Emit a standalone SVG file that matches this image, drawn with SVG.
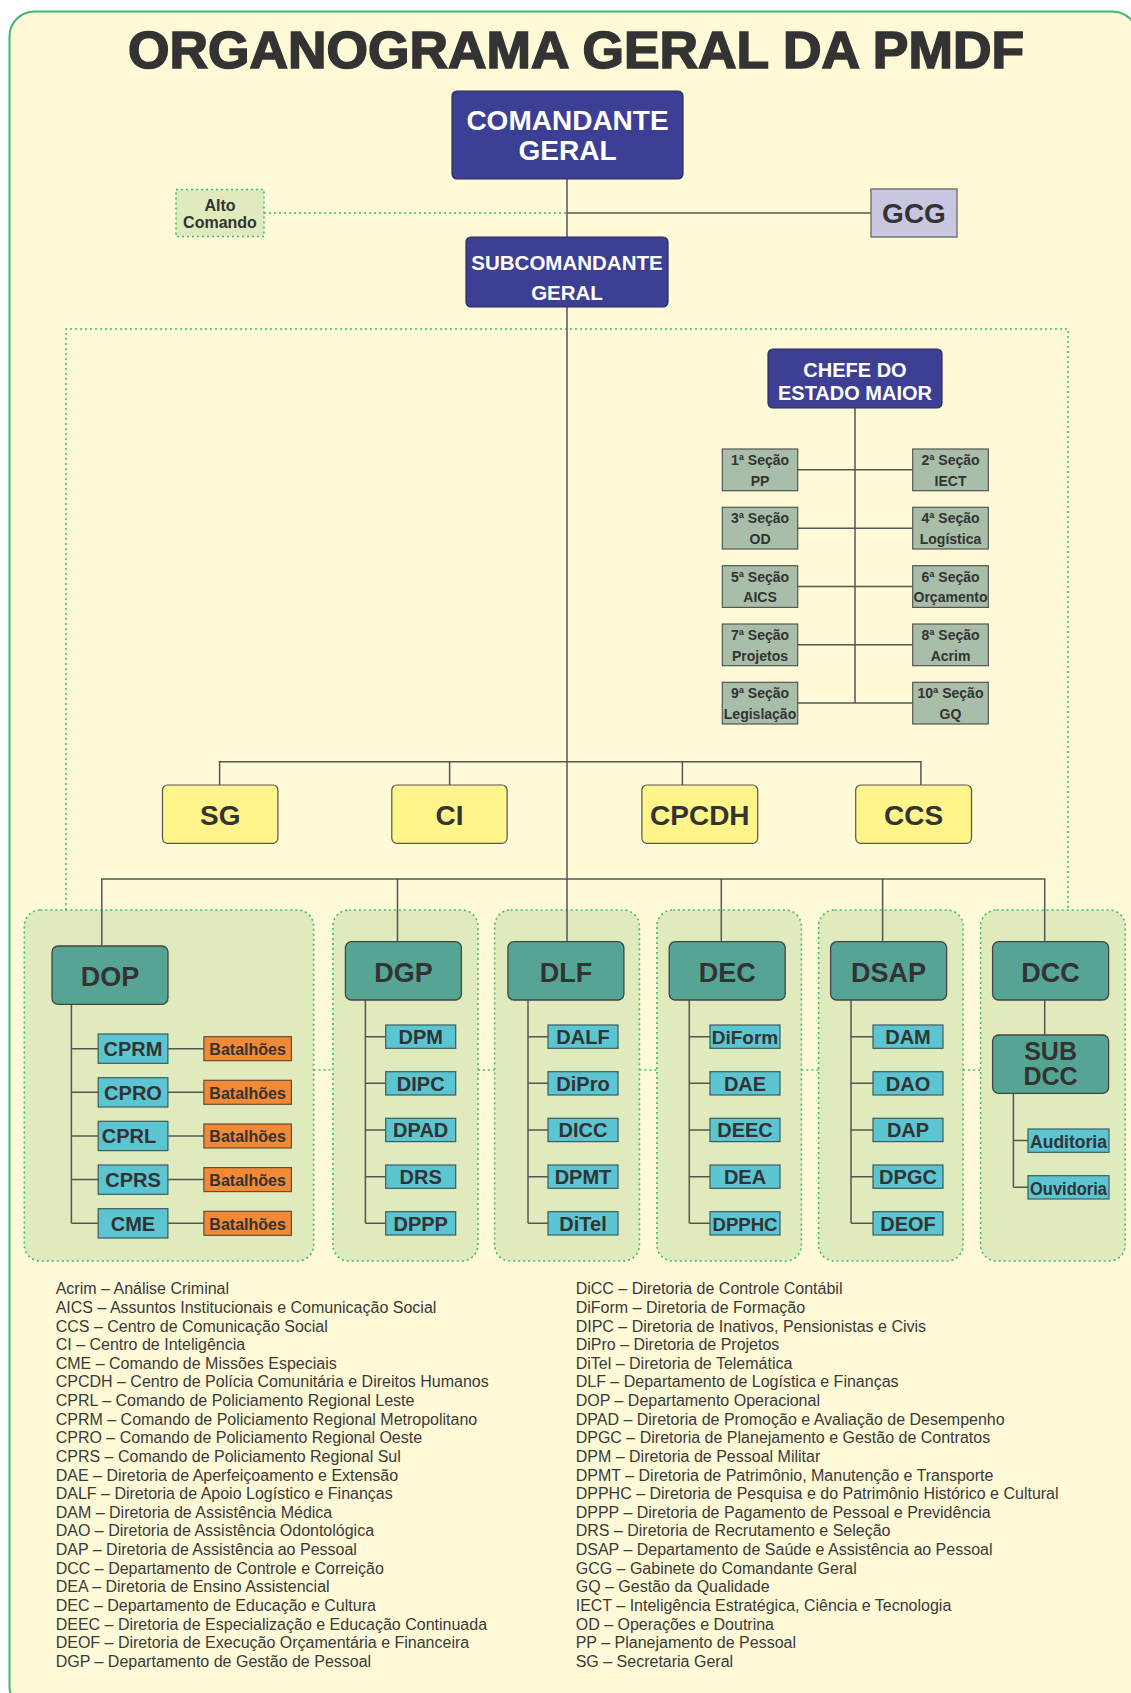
<svg xmlns="http://www.w3.org/2000/svg" width="1131" height="1693" viewBox="0 0 1131 1693">
<defs>
<style>
text{font-family:"Liberation Sans",Arial,sans-serif;font-weight:bold;fill:#333;text-anchor:middle}
.ln{stroke:#555;stroke-width:1.5;fill:none}
.dot{stroke:#3cbf6c;stroke-width:1.6;fill:none;stroke-dasharray:2 3}
.ind{fill:#3d3f94;stroke:#2b2b55;stroke-width:1.2}
.wt{fill:#fff}
.sec{fill:#a8bea8;stroke:#555;stroke-width:1.2}
.yel{fill:#fff58a;stroke:#555;stroke-width:1.2}
.teal{fill:#56a594;stroke:#444;stroke-width:1.3}
.cy{fill:#5bc5d2;stroke:#3f5a5e;stroke-width:1.2}
.or{fill:#f08a36;stroke:#6b4a33;stroke-width:1.2}
.grp{fill:#dfebbd;stroke:#3cbf6c;stroke-width:1.6;stroke-dasharray:2 3}
.leg{font-weight:normal;font-size:16px;text-anchor:start;fill:#3a3a3a}
</style>
</defs>
<rect width="1131" height="1693" fill="#fff"/>
<rect x="9.5" y="11.5" width="1128" height="1700" rx="25" fill="#fef9d6" stroke="#3cb873" stroke-width="2"/>
<text x="128" y="68" font-size="51" textLength="896" lengthAdjust="spacingAndGlyphs" style="text-anchor:start;stroke:#333;stroke-width:1.6">ORGANOGRAMA GERAL DA PMDF</text>

<g id="groups">
<path class="dot" d="M66,910 V329 H1068 V910"/>
<rect id="grp-dop" class="grp" x="24.3" y="910" width="289.3" height="351" rx="16"/>
<rect id="grp-dgp" class="grp" x="332.9" y="910" width="145" height="351" rx="16"/>
<rect id="grp-dlf" class="grp" x="494.6" y="910" width="144.8" height="351" rx="16"/>
<rect id="grp-dec" class="grp" x="656.9" y="910" width="144.5" height="351" rx="16"/>
<rect id="grp-dsap" class="grp" x="818.6" y="910" width="144.5" height="351" rx="16"/>
<rect id="grp-dcc" class="grp" x="980.6" y="910" width="144.6" height="351" rx="16"/>
</g>

<g id="connectors">
<path class="dot" d="M264,213 H567"/>
<path class="dot" d="M313.6,1070 H332.9 M477.9,1070 H494.6 M639.4,1070 H656.9 M801.4,1070 H818.6 M963.1,1070 H980.6"/>
<path class="ln" d="M567,179 V941.7 M567,213 H871"/>
<path class="ln" d="M855,408 V703 M797.7,469.8 H912.7 M797.7,528.2 H912.7 M797.7,586.5 H912.7 M797.7,644.8 H912.7 M797.7,703.1 H912.7"/>
<path class="ln" d="M219.6,785 V761.7 H920.9 V785 M449.6,761.7 V785 M682.4,761.7 V785"/>
<path class="ln" d="M101.8,946 V879 H1044.7 V941.7 M397.5,879 V941.7 M721.3,879 V941.7 M882.6,879 V941.7"/>
<path class="ln" d="M71.4,1004.3 V1223.3 M71.4,1048.7 H98.2 M71.4,1092.3 H98.2 M71.4,1136 H98.2 M71.4,1179.6 H98.2 M71.4,1223.3 H98.2 M167.9,1048.7 H203.9 M167.9,1092.3 H203.9 M167.9,1136 H203.9 M167.9,1179.6 H203.9 M167.9,1223.3 H203.9"/>
<path class="ln" d="M365.4,1000 V1223.3 M365.4,1036.7 H385.7 M365.4,1083.3 H385.7 M365.4,1130 H385.7 M365.4,1176.7 H385.7 M365.4,1223.3 H385.7"/>
<path class="ln" d="M528,1000 V1223.3 M528,1036.7 H548 M528,1083.3 H548 M528,1130 H548 M528,1176.7 H548 M528,1223.3 H548"/>
<path class="ln" d="M689.3,1000 V1223.3 M689.3,1036.7 H710 M689.3,1083.3 H710 M689.3,1130 H710 M689.3,1176.7 H710 M689.3,1223.3 H710"/>
<path class="ln" d="M851,1000 V1223.3 M851,1036.7 H873 M851,1083.3 H873 M851,1130 H873 M851,1176.7 H873 M851,1223.3 H873"/>
<path class="ln" d="M1044.7,1000 V1035 M1013.4,1093.3 V1187.3 M1013.4,1140.6 H1028 M1013.4,1187.3 H1028"/>
</g>

<g id="cg"><rect class="ind" x="452" y="91" width="231" height="88" rx="5"/><text class="wt" x="567.5" y="130" font-size="28">COMANDANTE</text><text class="wt" x="567.5" y="160" font-size="28">GERAL</text></g>
<g id="alto"><rect x="176" y="189.5" width="88" height="47" class="dot" style="fill:#dfebbd"/><text x="220" y="210.7" font-size="16">Alto</text><text x="220" y="228.3" font-size="16">Comando</text></g>
<g id="gcg"><rect x="871" y="189" width="86" height="48" fill="#c9c6e2" stroke="#777" stroke-width="1.5"/><text x="914" y="223" font-size="28">GCG</text></g>
<g id="sub"><rect class="ind" x="466" y="237" width="202" height="70" rx="5"/><text class="wt" x="567" y="270" font-size="20.5">SUBCOMANDANTE</text><text class="wt" x="567" y="300" font-size="20.5">GERAL</text></g>
<g id="chefe"><rect class="ind" x="768" y="349" width="174" height="59" rx="5"/><text class="wt" x="855" y="377" font-size="20">CHEFE DO</text><text class="wt" x="855" y="400" font-size="20">ESTADO MAIOR</text></g>

<g id="s1"><rect class="sec" x="722.3" y="449" width="75.4" height="41.7"/><text x="760" y="465" font-size="14">1ª Seção</text><text x="760" y="485.7" font-size="14">PP</text></g>
<g id="s2"><rect class="sec" x="912.7" y="449" width="75.6" height="41.7"/><text x="950.5" y="465" font-size="14">2ª Seção</text><text x="950.5" y="485.7" font-size="14">IECT</text></g>
<g id="s3"><rect class="sec" x="722.3" y="507.3" width="75.4" height="41.7"/><text x="760" y="523.3" font-size="14">3ª Seção</text><text x="760" y="544" font-size="14">OD</text></g>
<g id="s4"><rect class="sec" x="912.7" y="507.3" width="75.6" height="41.7"/><text x="950.5" y="523.3" font-size="14">4ª Seção</text><text x="950.5" y="544" font-size="14">Logística</text></g>
<g id="s5"><rect class="sec" x="722.3" y="565.7" width="75.4" height="41.7"/><text x="760" y="581.7" font-size="14">5ª Seção</text><text x="760" y="602.4" font-size="14">AICS</text></g>
<g id="s6"><rect class="sec" x="912.7" y="565.7" width="75.6" height="41.7"/><text x="950.5" y="581.7" font-size="14">6ª Seção</text><text x="950.5" y="602.4" font-size="14">Orçamento</text></g>
<g id="s7"><rect class="sec" x="722.3" y="624" width="75.4" height="41.7"/><text x="760" y="640" font-size="14">7ª Seção</text><text x="760" y="660.7" font-size="14">Projetos</text></g>
<g id="s8"><rect class="sec" x="912.7" y="624" width="75.6" height="41.7"/><text x="950.5" y="640" font-size="14">8ª Seção</text><text x="950.5" y="660.7" font-size="14">Acrim</text></g>
<g id="s9"><rect class="sec" x="722.3" y="682.3" width="75.4" height="41.7"/><text x="760" y="698.3" font-size="14">9ª Seção</text><text x="760" y="719" font-size="14">Legislação</text></g>
<g id="s10"><rect class="sec" x="912.7" y="682.3" width="75.6" height="41.7"/><text x="950.5" y="698.3" font-size="14">10ª Seção</text><text x="950.5" y="719" font-size="14">GQ</text></g>

<g id="sg"><rect class="yel" x="162.5" y="785" width="115.4" height="58.3" rx="5"/><text x="220.2" y="825" font-size="28">SG</text></g>
<g id="ci"><rect class="yel" x="391.8" y="785" width="115.3" height="58.3" rx="5"/><text x="449.5" y="825" font-size="28">CI</text></g>
<g id="cpcdh"><rect class="yel" x="641.9" y="785" width="115.8" height="58.3" rx="5"/><text x="699.8" y="825" font-size="28">CPCDH</text></g>
<g id="ccs"><rect class="yel" x="855.7" y="785" width="115.8" height="58.3" rx="5"/><text x="913.6" y="825" font-size="28">CCS</text></g>

<g id="dop"><rect class="teal" x="52" y="946" width="116" height="58.3" rx="6"/><text x="110" y="986" font-size="27">DOP</text></g>
<g id="dgp"><rect class="teal" x="345.4" y="941.7" width="116" height="58.3" rx="6"/><text x="403.4" y="981.7" font-size="27">DGP</text></g>
<g id="dlf"><rect class="teal" x="507.9" y="941.7" width="116" height="58.3" rx="6"/><text x="565.9" y="981.7" font-size="27">DLF</text></g>
<g id="dec"><rect class="teal" x="669.2" y="941.7" width="116" height="58.3" rx="6"/><text x="727.2" y="981.7" font-size="27">DEC</text></g>
<g id="dsap"><rect class="teal" x="830.6" y="941.7" width="116" height="58.3" rx="6"/><text x="888.6" y="981.7" font-size="27">DSAP</text></g>
<g id="dcc"><rect class="teal" x="992.6" y="941.7" width="116" height="58.3" rx="6"/><text x="1050.6" y="981.7" font-size="27">DCC</text></g>
<g id="subdcc"><rect class="teal" x="992.6" y="1035" width="116" height="58.3" rx="6"/><text x="1050.6" y="1060" font-size="25">SUB</text><text x="1050.6" y="1085" font-size="25">DCC</text></g>

<g id="cprm"><rect class="cy" x="98.2" y="1034" width="69.7" height="29.3"/><text x="133" y="1056" font-size="20">CPRM</text></g>
<g id="cpro"><rect class="cy" x="98.2" y="1077.7" width="69.7" height="29.3"/><text x="133" y="1099.7" font-size="20">CPRO</text></g>
<g id="cprl"><rect class="cy" x="98.2" y="1121.3" width="69.7" height="29.3"/><text x="129" y="1143.3" font-size="20">CPRL</text></g>
<g id="cprs"><rect class="cy" x="98.2" y="1165" width="69.7" height="29.3"/><text x="133" y="1187" font-size="20">CPRS</text></g>
<g id="cme"><rect class="cy" x="98.2" y="1208.7" width="69.7" height="29.3"/><text x="133" y="1230.7" font-size="20">CME</text></g>
<g id="bat1"><rect class="or" x="203.9" y="1036.7" width="87.5" height="24"/><text x="247.6" y="1055" font-size="16">Batalhões</text></g>
<g id="bat2"><rect class="or" x="203.9" y="1080.3" width="87.5" height="24"/><text x="247.6" y="1098.6" font-size="16">Batalhões</text></g>
<g id="bat3"><rect class="or" x="203.9" y="1124" width="87.5" height="24"/><text x="247.6" y="1142.3" font-size="16">Batalhões</text></g>
<g id="bat4"><rect class="or" x="203.9" y="1167.6" width="87.5" height="24"/><text x="247.6" y="1185.9" font-size="16">Batalhões</text></g>
<g id="bat5"><rect class="or" x="203.9" y="1211.3" width="87.5" height="24"/><text x="247.6" y="1229.6" font-size="16">Batalhões</text></g>

<g id="dpm"><rect class="cy" x="385.7" y="1025" width="70" height="23.3"/><text x="420.7" y="1044" font-size="20">DPM</text></g>
<g id="dipc"><rect class="cy" x="385.7" y="1071.7" width="70" height="23.3"/><text x="420.7" y="1090.7" font-size="20">DIPC</text></g>
<g id="dpad"><rect class="cy" x="385.7" y="1118.3" width="70" height="23.3"/><text x="420.7" y="1137.3" font-size="20">DPAD</text></g>
<g id="drs"><rect class="cy" x="385.7" y="1165" width="70" height="23.3"/><text x="420.7" y="1184" font-size="20">DRS</text></g>
<g id="dppp"><rect class="cy" x="385.7" y="1211.7" width="70" height="23.3"/><text x="420.7" y="1230.7" font-size="20">DPPP</text></g>

<g id="dalf"><rect class="cy" x="548" y="1025" width="70" height="23.3"/><text x="583" y="1044" font-size="20">DALF</text></g>
<g id="dipro"><rect class="cy" x="548" y="1071.7" width="70" height="23.3"/><text x="583" y="1090.7" font-size="20">DiPro</text></g>
<g id="dicc"><rect class="cy" x="548" y="1118.3" width="70" height="23.3"/><text x="583" y="1137.3" font-size="20">DICC</text></g>
<g id="dpmt"><rect class="cy" x="548" y="1165" width="70" height="23.3"/><text x="583" y="1184" font-size="20">DPMT</text></g>
<g id="ditel"><rect class="cy" x="548" y="1211.7" width="70" height="23.3"/><text x="583" y="1230.7" font-size="20">DiTel</text></g>

<g id="diform"><rect class="cy" x="710" y="1025" width="70" height="23.3"/><text x="745" y="1044" font-size="19">DiForm</text></g>
<g id="dae"><rect class="cy" x="710" y="1071.7" width="70" height="23.3"/><text x="745" y="1090.7" font-size="20">DAE</text></g>
<g id="deec"><rect class="cy" x="710" y="1118.3" width="70" height="23.3"/><text x="745" y="1137.3" font-size="20">DEEC</text></g>
<g id="dea"><rect class="cy" x="710" y="1165" width="70" height="23.3"/><text x="745" y="1184" font-size="20">DEA</text></g>
<g id="dpphc"><rect class="cy" x="710" y="1211.7" width="70" height="23.3"/><text x="745" y="1230.7" font-size="19" textLength="65" lengthAdjust="spacingAndGlyphs">DPPHC</text></g>

<g id="dam"><rect class="cy" x="873" y="1025" width="70" height="23.3"/><text x="908" y="1044" font-size="20">DAM</text></g>
<g id="dao"><rect class="cy" x="873" y="1071.7" width="70" height="23.3"/><text x="908" y="1090.7" font-size="20">DAO</text></g>
<g id="dap"><rect class="cy" x="873" y="1118.3" width="70" height="23.3"/><text x="908" y="1137.3" font-size="20">DAP</text></g>
<g id="dpgc"><rect class="cy" x="873" y="1165" width="70" height="23.3"/><text x="908" y="1184" font-size="20">DPGC</text></g>
<g id="deof"><rect class="cy" x="873" y="1211.7" width="70" height="23.3"/><text x="908" y="1230.7" font-size="20">DEOF</text></g>

<g id="auditoria"><rect class="cy" x="1028" y="1129" width="81" height="23.3"/><text x="1068.5" y="1148" font-size="18" textLength="77" lengthAdjust="spacingAndGlyphs">Auditoria</text></g>
<g id="ouvidoria"><rect class="cy" x="1028" y="1175.7" width="81" height="23.3"/><text x="1068.5" y="1194.7" font-size="18" textLength="77" lengthAdjust="spacingAndGlyphs">Ouvidoria</text></g>

<g id="legend-left">
<text class="leg" x="55.7" y="1294.3">Acrim – Análise Criminal</text>
<text class="leg" x="55.7" y="1312.9">AICS – Assuntos Institucionais e Comunicação Social</text>
<text class="leg" x="55.7" y="1331.5">CCS – Centro de Comunicação Social</text>
<text class="leg" x="55.7" y="1350.2">CI – Centro de Inteligência</text>
<text class="leg" x="55.7" y="1368.8">CME – Comando de Missões Especiais</text>
<text class="leg" x="55.7" y="1387.4">CPCDH – Centro de Polícia Comunitária e Direitos Humanos</text>
<text class="leg" x="55.7" y="1406">CPRL – Comando de Policiamento Regional Leste</text>
<text class="leg" x="55.7" y="1424.6">CPRM – Comando de Policiamento Regional Metropolitano</text>
<text class="leg" x="55.7" y="1443.3">CPRO – Comando de Policiamento Regional Oeste</text>
<text class="leg" x="55.7" y="1461.9">CPRS – Comando de Policiamento Regional Sul</text>
<text class="leg" x="55.7" y="1480.5">DAE – Diretoria de Aperfeiçoamento e Extensão</text>
<text class="leg" x="55.7" y="1499.1">DALF – Diretoria de Apoio Logístico e Finanças</text>
<text class="leg" x="55.7" y="1517.7">DAM – Diretoria de Assistência Médica</text>
<text class="leg" x="55.7" y="1536.4">DAO – Diretoria de Assistência Odontológica</text>
<text class="leg" x="55.7" y="1555">DAP – Diretoria de Assistência ao Pessoal</text>
<text class="leg" x="55.7" y="1573.6">DCC – Departamento de Controle e Correição</text>
<text class="leg" x="55.7" y="1592.2">DEA – Diretoria de Ensino Assistencial</text>
<text class="leg" x="55.7" y="1610.8">DEC – Departamento de Educação e Cultura</text>
<text class="leg" x="55.7" y="1629.5">DEEC – Diretoria de Especialização e Educação Continuada</text>
<text class="leg" x="55.7" y="1648.1">DEOF – Diretoria de Execução Orçamentária e Financeira</text>
<text class="leg" x="55.7" y="1666.7">DGP – Departamento de Gestão de Pessoal</text>
</g>
<g id="legend-right">
<text class="leg" x="575.7" y="1294.3">DiCC – Diretoria de Controle Contábil</text>
<text class="leg" x="575.7" y="1312.9">DiForm – Diretoria de Formação</text>
<text class="leg" x="575.7" y="1331.5">DIPC – Diretoria de Inativos, Pensionistas e Civis</text>
<text class="leg" x="575.7" y="1350.2">DiPro – Diretoria de Projetos</text>
<text class="leg" x="575.7" y="1368.8">DiTel – Diretoria de Telemática</text>
<text class="leg" x="575.7" y="1387.4">DLF – Departamento de Logística e Finanças</text>
<text class="leg" x="575.7" y="1406">DOP – Departamento Operacional</text>
<text class="leg" x="575.7" y="1424.6">DPAD – Diretoria de Promoção e Avaliação de Desempenho</text>
<text class="leg" x="575.7" y="1443.3">DPGC – Diretoria de Planejamento e Gestão de Contratos</text>
<text class="leg" x="575.7" y="1461.9">DPM – Diretoria de Pessoal Militar</text>
<text class="leg" x="575.7" y="1480.5">DPMT – Diretoria de Patrimônio, Manutenção e Transporte</text>
<text class="leg" x="575.7" y="1499.1">DPPHC – Diretoria de Pesquisa e do Patrimônio Histórico e Cultural</text>
<text class="leg" x="575.7" y="1517.7">DPPP – Diretoria de Pagamento de Pessoal e Previdência</text>
<text class="leg" x="575.7" y="1536.4">DRS – Diretoria de Recrutamento e Seleção</text>
<text class="leg" x="575.7" y="1555">DSAP – Departamento de Saúde e Assistência ao Pessoal</text>
<text class="leg" x="575.7" y="1573.6">GCG – Gabinete do Comandante Geral</text>
<text class="leg" x="575.7" y="1592.2">GQ – Gestão da Qualidade</text>
<text class="leg" x="575.7" y="1610.8">IECT – Inteligência Estratégica, Ciência e Tecnologia</text>
<text class="leg" x="575.7" y="1629.5">OD – Operações e Doutrina</text>
<text class="leg" x="575.7" y="1648.1">PP – Planejamento de Pessoal</text>
<text class="leg" x="575.7" y="1666.7">SG – Secretaria Geral</text>
</g>
</svg>
